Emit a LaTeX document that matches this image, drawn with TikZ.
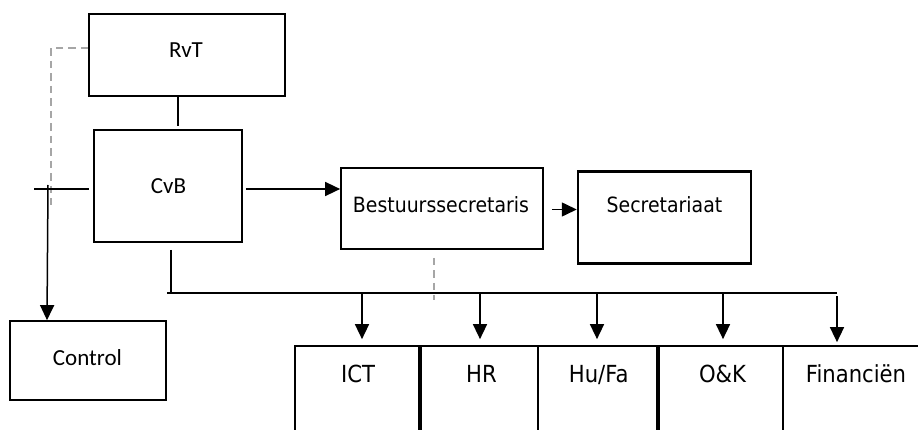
\documentclass[tikz,border=0pt]{standalone}
\usepackage{fontspec}
\newfontfamily\carl{Carlito}
\newfontfamily\tah[FakeStretch=0.9]{DejaVu Sans}
\usetikzlibrary{arrows.meta}
\definecolor{dashgrey}{RGB}{166,166,166}
\tikzset{
  box/.style={draw, line width=1.7pt, inner sep=0pt, rectangle},
  thickbox/.style={box, line width=2.5pt},
  conn/.style={line width=1.5pt},
  arr/.style={conn, -{Triangle[length=15pt,width=14pt]}},
  greydash/.style={draw=dashgrey, line width=1.4pt, dash pattern=on 7.5pt off 5pt},
  carltext/.style={anchor=base, font=\carl\fontsize{23}{27}\selectfont},
  toptext/.style={anchor=base, font=\tah\fontsize{21}{25}\selectfont},
  bottext/.style={anchor=base, font=\tah\fontsize{23.5}{28}\selectfont}
}
\begin{document}
\begin{tikzpicture}[x=1pt,y=1pt]
\clip (0,0) rectangle (918,429);
\fill[white] (0,0) rectangle (918,429);
% boxes
\node[box, minimum width=196pt, minimum height=82pt] (RvT) at (187,374) {};
\node[box, minimum width=148pt, minimum height=112pt] (CvB) at (168,243) {};
\node[box, minimum width=156pt, minimum height=79pt] (Control) at (88,68.5) {};
\node[box, minimum width=202pt, minimum height=81pt] (Bestuurs) at (442,220.5) {};
\node[thickbox, minimum width=173pt, minimum height=92pt] (Secr) at (664.5,211.5) {};
\node[box, minimum width=124pt, minimum height=100pt] (ICT) at (357,33) {};
\node[box, minimum width=117pt, minimum height=100pt] (HR) at (479.5,33) {};
\node[box, minimum width=119pt, minimum height=100pt] (HuFa) at (597.5,33) {};
\node[box, minimum width=124pt, minimum height=100pt] (OK) at (721,33) {};
\node[box, minimum width=147pt, minimum height=100pt] (Fin) at (856.5,33) {};
% texts
\node[carltext] (tRvT) at (186,371) {RvT};
\node[carltext] (tCvB) at (168.5,235) {CvB};
\node[carltext] (tControl) at (87.5,64) {Control};
\node[toptext] (tBest) at (441,217) {Bestuurssecretaris};
\node[toptext] (tSecr) at (664.5,216) {Secretariaat};
\node[bottext] (tICT) at (358,47) {ICT};
\node[bottext] (tHR) at (481.5,47) {HR};
\node[bottext] (tHuFa) at (598.7,47) {Hu/Fa};
\node[bottext] (tOK) at (722.5,47) {O\&K};
\node[bottext] (tFin) at (856,47) {Financiën};
% helper coordinates
\coordinate (lx) at (34,240);
\coordinate (ctop) at (48,244);
\coordinate (dend) at (51,224);
\coordinate (busL) at (167,136);
\coordinate (busR) at (837,136);
\coordinate (dbe) at (434,129);
\coordinate (aICT) at (362,136);
\coordinate (aHR) at (480,136);
\coordinate (aHuFa) at (597,136);
\coordinate (aOK) at (723,136);
\coordinate (aFin) at (837,136);
% dashed grey
\draw[greydash] ([yshift=7pt]RvT.west) -| (dend);
\draw[greydash, shorten <=8pt] (Bestuurs.south -| dbe) -- (dbe);
% connectors
\draw[conn, shorten >=3pt] ([xshift=-9pt]RvT.south) -- ([xshift=-9pt]RvT.south |- CvB.north);
\draw[conn, shorten >=4pt] (lx) -- (lx -| CvB.west);
\draw[arr] (ctop) -- ([xshift=-41pt]Control.north);
\draw[arr, shorten <=3pt] ([yshift=-3pt]CvB.east) -- ([yshift=-3pt]CvB.east -| Bestuurs.west);
\draw[arr, shorten <=8pt] ([yshift=-1pt]Bestuurs.east) -- ([yshift=-1pt]Bestuurs.east -| Secr.west);
\draw[conn, shorten <=7pt] ([xshift=3pt]CvB.south) -- ([xshift=3pt]CvB.south |- busL);
\draw[conn] (busL) -- (busR);
\draw[arr, shorten >=6pt] (aICT) -- (aICT |- ICT.north);
\draw[arr, shorten >=6pt] (aHR) -- (aHR |- HR.north);
\draw[arr, shorten >=6pt] (aHuFa) -- (aHuFa |- HuFa.north);
\draw[arr, shorten >=6pt] (aOK) -- (aOK |- OK.north);
\draw[arr, shorten <=3pt, shorten >=3pt] (aFin) -- (aFin |- Fin.north);
\end{tikzpicture}
\end{document}
